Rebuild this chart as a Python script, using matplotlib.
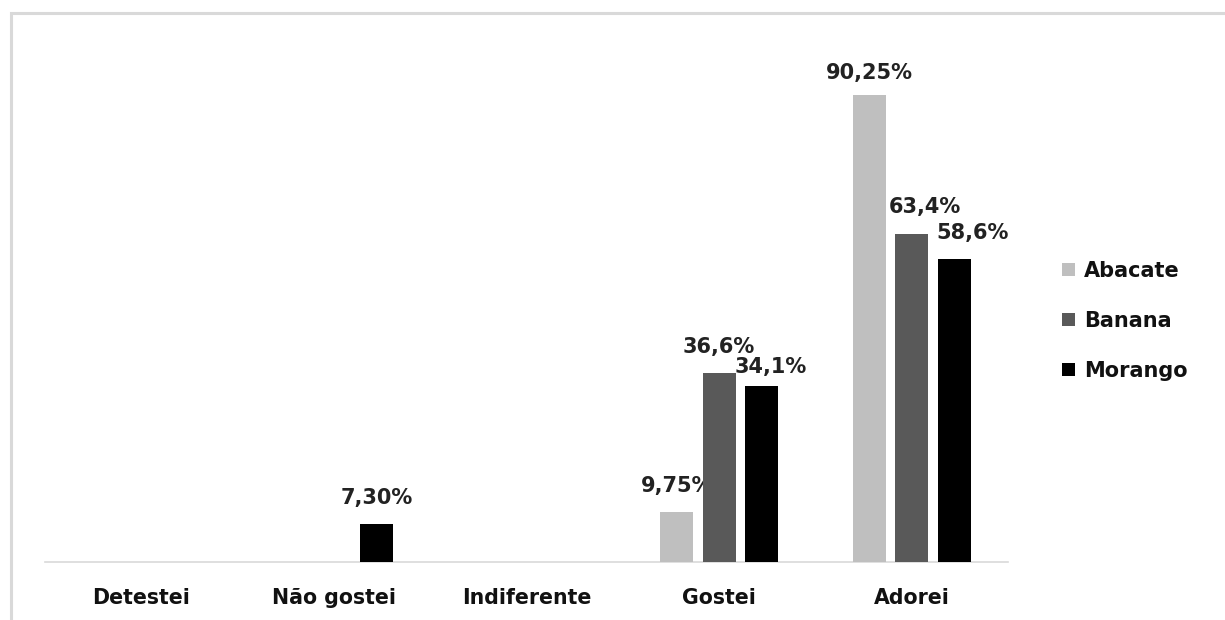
import matplotlib
matplotlib.use("Agg")
import matplotlib.pyplot as plt
from matplotlib.patches import Rectangle, Patch
import numpy as np

categories = ["Detestei", "Não gostei", "Indiferente", "Gostei", "Adorei"]
series_names = ["Abacate", "Banana", "Morango"]
abacate = [0, 0, 0, 9.75, 90.25]
banana = [0, 0, 0, 36.6, 63.4]
morango = [0, 7.30, 0, 34.1, 58.6]
abacate_labels = ["", "", "", "9,75%", "90,25%"]
banana_labels = ["", "", "", "36,6%", "63,4%"]
morango_labels = ["", "7,30%", "", "34,1%", "58,6%"]

colors = ["#BFBFBF", "#595959", "#000000"]
# label nudges in pixels (dx, dy) per series per category
nudges = [
    [(0, 0), (0, 0), (0, 0), (0, 0), (0, -4)],
    [(0, 0), (0, 0), (0, 0), (0, 0), (13, 1)],
    [(0, 0), (0, 0), (0, 0), (9, -7), (18, 0)],
]

plt.rcParams['font.family'] = ['DejaVu Sans']
W, H = 1225, 620
fig = plt.figure(figsize=(W / 100, H / 100), dpi=100)
fig.patch.set_facecolor("white")

# chart frame (only top and left visible)
fig.patches.append(Rectangle((10.5 / W, -0.2), 1.5, 1.2 - 13 / H,
                             transform=fig.transFigure, fill=False,
                             edgecolor="#D9D9D9", lw=2.2))

ax = fig.add_axes([45 / W, 1 - 562 / H, (1008 - 45) / W, 517 / H])
ax.set_xlim(-0.5, 4.5)
ax.set_ylim(0, 100)

x = np.arange(len(categories))
step = 0.22
width = 0.172
data = [abacate, banana, morango]
labels = [abacate_labels, banana_labels, morango_labels]
px = 72 / 100.0
for i, (vals, labs) in enumerate(zip(data, labels)):
    xs = x + (i - 1) * step
    ax.bar(xs, vals, width=width, color=colors[i], edgecolor="none",
           label=series_names[i], zorder=3)
    for j, (xv, v, lab) in enumerate(zip(xs, vals, labs)):
        if lab:
            dx, dy = nudges[i][j]
            ax.annotate(lab, (xv, v), xytext=(dx * px, (26 + dy) * px),
                        textcoords="offset points", ha="center", va="center",
                        fontsize=15, fontweight="bold", color="#222222")

for s in ["top", "right", "left"]:
    ax.spines[s].set_visible(False)
ax.spines["bottom"].set_color("#D9D9D9")
ax.spines["bottom"].set_linewidth(1.2)
ax.set_yticks([])
ax.set_xticks(x)
ax.set_xticklabels(categories, fontsize=14.8, fontweight="bold", color="#111111")
ax.tick_params(axis="x", length=0, pad=19)

handles = [Patch(facecolor=c, edgecolor="none") for c in colors]
leg = fig.legend(handles, series_names, loc="center left",
                 bbox_to_anchor=(1062 / W, 1 - 321 / H), frameon=False,
                 handlelength=0.6, handleheight=0.6, handletextpad=0.45,
                 labelspacing=1.45, borderpad=0, borderaxespad=0,
                 prop={"size": 15, "weight": "bold"})
for t in leg.get_texts():
    t.set_color("#111111")

fig.savefig("out.png", dpi=100, facecolor="white")
